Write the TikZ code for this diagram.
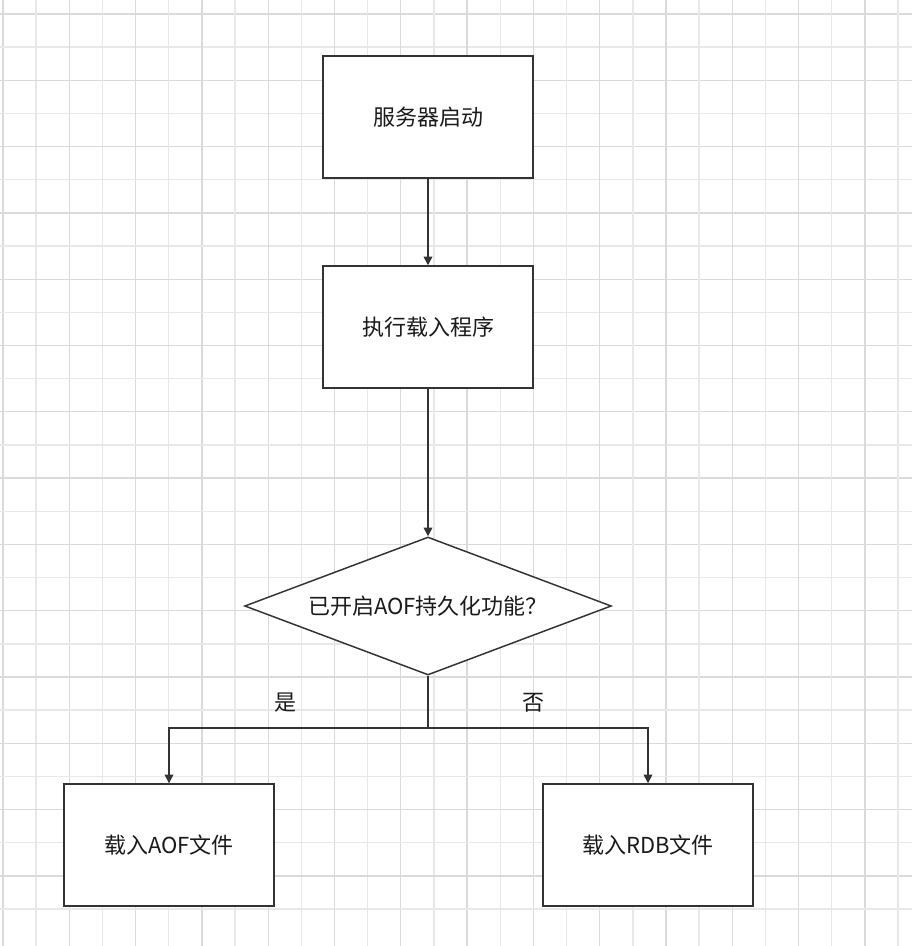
\documentclass[tikz,border=0pt]{standalone}
\usepackage{fontspec}
\setmainfont{Noto Sans CJK SC}
\usetikzlibrary{arrows.meta,shapes.geometric}
\definecolor{fcline}{HTML}{333333}
\definecolor{fctext}{HTML}{1A1A1A}
\definecolor{fcgrid}{HTML}{E8E8E8}
\definecolor{fcgriddk}{HTML}{DADADA}

\begin{document}
\begin{tikzpicture}[
  x=0.75pt, y=-0.75pt,
  font=\fontsize{16.5pt}{19pt}\selectfont, text=fctext,
  stepbox/.style={draw=fcline, line width=1.1pt, fill=white,
                  minimum width=157.5pt, minimum height=91.5pt},
  decide/.style={diamond, aspect=2.66, draw=fcline, line width=1.1pt, fill=white,
                 inner sep=0pt, minimum width=275pt, minimum height=103.5pt},
  ar/.style={-{Triangle[length=6.5pt, width=6.5pt]}, line width=1.1pt, draw=fcline},
  ln/.style={line width=1.1pt, draw=fcline}]

\useasboundingbox (0,0) rectangle (912,946);
\fill[white] (0,0) rectangle (912,946);

% ---- grid ------------------------------------------------------------
\foreach \i in {0,...,27} {
  \pgfmathsetmacro\gx{3+33.15*\i}
  \pgfmathsetmacro\gy{14+33.15*\i}
  \ifodd\i
    \draw[fcgrid, line width=1pt] (\gx,0) -- (\gx,946);
    \draw[fcgrid, line width=1pt] (0,\gy) -- (912,\gy);
  \else
    \draw[fcgriddk, line width=1pt] (\gx,0) -- (\gx,946);
    \draw[fcgriddk, line width=1pt] (0,\gy) -- (912,\gy);
  \fi
}

% ---- steps -----------------------------------------------------------
\node[stepbox] (start) at (428,117) {服务器启动};
\node[stepbox] (load)  at (428,327) {执行载入程序};
\node[decide]  (check) at (428,606) {已开启AOF持久化功能？};
\node[stepbox] (aof)   at (169,845) {载入AOF文件};
\node[stepbox] (rdb)   at (648,845) {载入RDB文件};

% ---- branch labels ---------------------------------------------------
\node (yes) at (285,703) {是};
\node (no)  at (533,703) {否};

% ---- connectors ------------------------------------------------------
\coordinate (split) at (428,728);
\draw[ar] (start) -- (load);
\draw[ar] (load) -- (check);
\draw[ln] (check.south) -- (split);
\draw[ar] (split) -| (aof);
\draw[ar] (split) -| (rdb);
\end{tikzpicture}
\end{document}
